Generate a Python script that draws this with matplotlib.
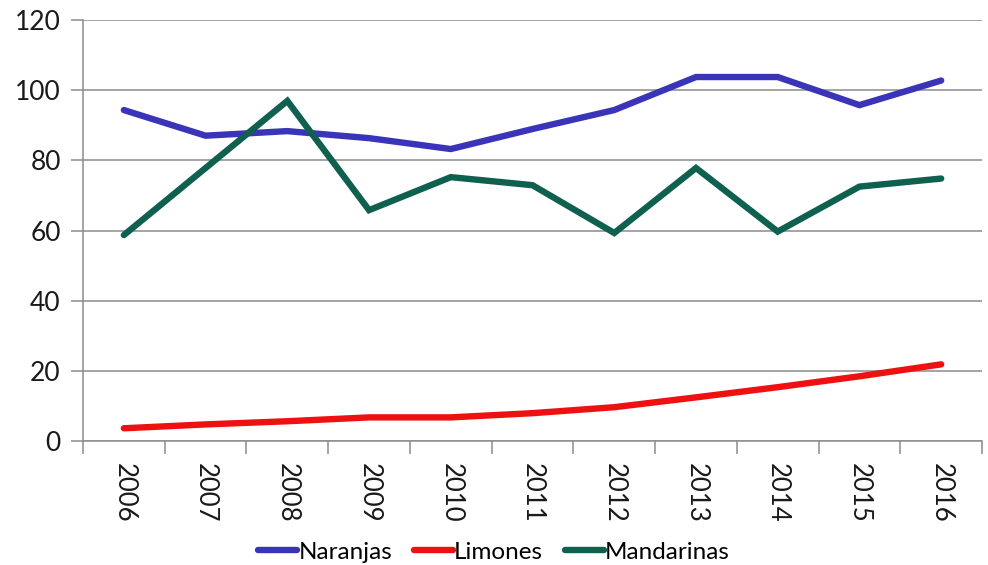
"""
Line chart of citrus production by year: oranges, lemons and mandarins
"""

import matplotlib.pyplot as plt
import numpy as np

years = ['2006', '2007', '2008', '2009', '2010', '2011',
         '2012', '2013', '2014', '2015', '2016']
naranjas = [94.3, 87.0, 88.3, 86.3, 83.2, 88.9, 94.3, 103.7, 103.7, 95.7, 102.7]
limones = [3.7, 4.8, 5.7, 6.8, 6.8, 8.0, 9.7, 12.5, 15.4, 18.5, 21.9]
mandarinas = [58.7, 77.8, 96.9, 65.8, 75.2, 72.9, 59.3, 77.8, 59.7, 72.5, 74.8]

series = [('Naranjas', naranjas, '#3a35b8'),
          ('Limones', limones, '#ee1111'),
          ('Mandarinas', mandarinas, '#106050')]

plt.rcParams['font.family'] = ['Lato', 'DejaVu Sans']

fig = plt.figure(figsize=(9.88, 5.65), dpi=100)
ax = fig.add_axes([0.084, 0.219, 0.910, 0.746])

x = np.arange(len(years))
for name, values, colour in series:
    ax.plot(x, values, color=colour, linewidth=4.6, solid_capstyle='round',
            solid_joinstyle='miter', label=name)

# y axis with horizontal grid
ax.set_ylim(0, 120)
ax.set_yticks(np.arange(0, 121, 20))
ax.yaxis.grid(True, color='#8c8c8c', linewidth=1.1)
ax.set_axisbelow(True)
ax.tick_params(axis='y', labelsize=19, length=9, color='#8c8c8c', width=1.1,
               pad=7, labelcolor='#1a1a1a')

# category axis: labels centred, tick marks between categories
ax.set_xlim(-0.5, len(years) - 0.5)
ax.set_xticks(x)
ax.set_xticklabels(years, rotation=-90)
ax.set_xticks(np.arange(-0.5, len(years)), minor=True)
ax.tick_params(axis='x', which='major', length=0, labelsize=18.5, pad=16,
               labelcolor='#1a1a1a')
ax.tick_params(axis='x', which='minor', length=9, color='#8c8c8c', width=1.1)

for side in ('top', 'right'):
    ax.spines[side].set_visible(False)
for side in ('left', 'bottom'):
    ax.spines[side].set_color('#8c8c8c')
    ax.spines[side].set_linewidth(1.1)

fig.legend(loc='lower center', bbox_to_anchor=(0.5, -0.035), ncol=3,
           frameon=False, fontsize=17.5, handlelength=1.6, handletextpad=0.05,
           columnspacing=0.9)

fig.savefig('out.png', dpi=100)
